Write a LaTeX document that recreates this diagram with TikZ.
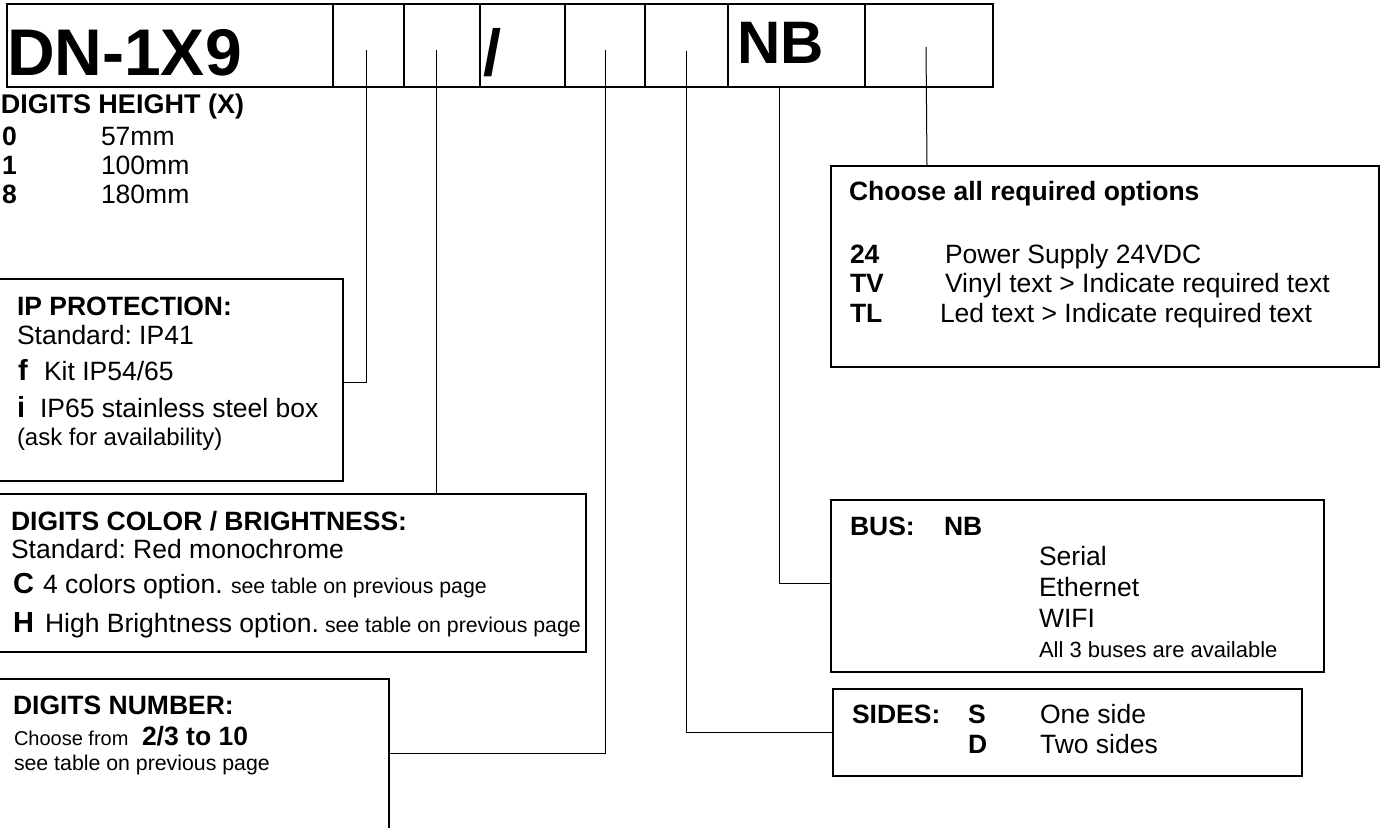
\documentclass[tikz,border=0pt]{standalone}
\usepackage{fontspec}
\setmainfont{Liberation Sans}
\frenchspacing
\newcommand\fsz[1]{\fontsize{#1}{#1}\selectfont}
\tikzset{
  txt/.style={anchor=base west, inner sep=0pt, outer sep=0pt, font=\fsz{26.5}},
  btxt/.style={txt, font=\fsz{26.5}\bfseries},
  smalltxt/.style={txt, font=\fsz{21.3}},
  bigletter/.style={txt, font=\fsz{29}\bfseries},
  optbox/.style={draw, line width=1.3pt, rectangle, inner sep=0pt, outer sep=0pt},
  leader/.style={line width=1pt},
  cellline/.style={line width=2.5pt}
}
\begin{document}
\begin{tikzpicture}[x=1pt, y=-1pt]
\fill[white] (0,0) rectangle (1380,827);
\clip (0,0) rectangle (1380,827);

% ---- top code row ----
\node[draw, line width=2.5pt, rectangle, inner sep=0pt, minimum width=986pt, minimum height=83pt] (row) at (500,45.5) {};
\foreach \xx in {333,404,480,565,645,728,865} {
  \draw[cellline] (\xx,4) -- (\xx,87);
}
\node[txt, font=\fsz{66}\bfseries] (code) at (7,75) {DN-1X9};
\node[txt, font=\fsz{65}\bfseries] (slash) at (483,75) {/};
\node[txt, font=\fsz{60}\bfseries] (nb) at (737,63) {NB};

% leader start points inside the cells
\coordinate (c1) at (366,50);
\coordinate (c2) at (436,50);
\coordinate (c3) at (605,50);
\coordinate (c4) at (686,51);
\coordinate (c5) at (779,87);
\coordinate (c6) at (926,47);

% ---- digits height ----
\node[txt, font=\fsz{27}\bfseries] (dh) at (1,113) {DIGITS HEIGHT (X)};
\node[btxt] (dh0) at (2,145) {0};
\node[txt]  (dh0t) at (101,145) {57mm};
\node[btxt] (dh1) at (2,174) {1};
\node[txt]  (dh1t) at (101,174) {100mm};
\node[btxt] (dh8) at (2,203) {8};
\node[txt]  (dh8t) at (101,203) {180mm};

% ---- IP protection box ----
\node[optbox, minimum width=353pt, minimum height=202pt] (ip) at (166.5,380) {};
\node[btxt] (ip1) at (17,315) {IP PROTECTION:};
\node[txt]  (ip2) at (17,344) {Standard: IP41};
\node[bigletter] (ipf) at (18,380) {f};
\node[txt]  (ip3) at (44,380) {Kit IP54/65};
\node[bigletter] (ipi) at (17,417) {i};
\node[txt]  (ip4) at (40,417) {IP65 stainless steel box};
\node[txt, font=\fsz{24}] (ip5) at (17,445) {(ask for availability)};

% ---- digits colour box ----
\node[optbox, minimum width=606pt, minimum height=158pt] (col) at (283,573) {};
\node[btxt] (col1) at (11,530) {DIGITS COLOR / BRIGHTNESS:};
\node[txt]  (col2) at (11,558) {Standard: Red monochrome};
\node[bigletter] (colC) at (13,593) {C};
\node[txt]  (col3) at (43,593) {4 colors option.};
\node[smalltxt] (col3b) at (231,593) {see table on previous page};
\node[bigletter] (colH) at (13,632) {H};
\node[txt]  (col4) at (45,632) {High Brightness option.};
\node[smalltxt] (col4b) at (325,632) {see table on previous page};

% ---- digits number box ----
\node[optbox, minimum width=406pt, minimum height=221pt] (num) at (186,789.5) {};
\node[btxt] (num1) at (13,714) {DIGITS NUMBER:};
\node[txt, font=\fsz{20}] (num2) at (14,745) {Choose from};
\node[btxt] (num2b) at (142,745) {2/3 to 10};
\node[smalltxt] (num3) at (14,770) {see table on previous page};

% ---- options box ----
\node[optbox, minimum width=548pt, minimum height=201pt] (opt) at (1105,266.5) {};
\node[btxt] (opt1) at (849,200) {Choose all required options};
\node[btxt] (o24) at (850,263) {24};
\node[txt]  (o24t) at (945,263) {Power Supply 24VDC};
\node[btxt] (otv) at (850,292) {TV};
\node[txt]  (otvt) at (945,292) {Vinyl text > Indicate required text};
\node[btxt] (otl) at (850,322) {TL};
\node[txt]  (otlt) at (940,322) {Led text > Indicate required text};

% ---- bus box ----
\node[optbox, minimum width=493pt, minimum height=172pt] (bus) at (1077.5,586) {};
\node[btxt] (bus1) at (850,535) {BUS:};
\node[btxt] (bus2) at (944,535) {NB};
\node[txt]  (bus3) at (1039,565) {Serial};
\node[txt]  (bus4) at (1039,596) {Ethernet};
\node[txt]  (bus5) at (1039,627) {WIFI};
\node[txt, font=\fsz{22}] (bus6) at (1039,657) {All 3 buses are available};

% ---- sides box ----
\node[optbox, minimum width=469pt, minimum height=87pt] (sides) at (1067.5,732.5) {};
\node[btxt] (s1) at (852,723) {SIDES:};
\node[btxt] (s2) at (968,723) {S};
\node[txt]  (s3) at (1040,723) {One side};
\node[btxt] (s4) at (968,753) {D};
\node[txt]  (s5) at (1040,753) {Two sides};

% ---- leaders ----
\draw[leader] (c1) |- ([yshift=-2pt]ip.east);
\draw[leader] (c2) -- (c2 |- col.north);
\draw[leader] (c3) |- ([yshift=-74pt]num.north east);
\draw[leader] (c4) |- (sides.west);
\draw[leader] (c5) |- ([yshift=3pt]bus.west);
\draw[leader] (c6) -- ([xshift=1pt]c6 |- opt.north);
\end{tikzpicture}
\end{document}
